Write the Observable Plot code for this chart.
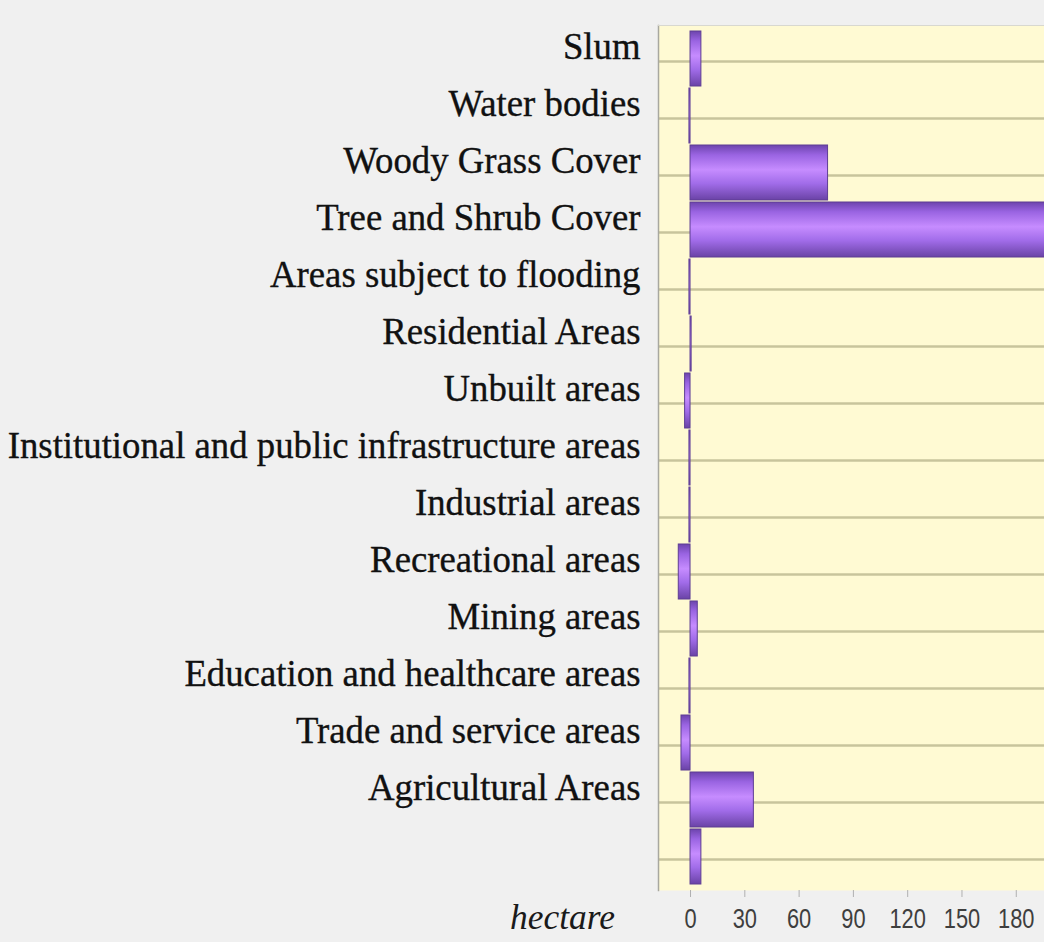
<!DOCTYPE html>
<html>
<head>
<meta charset="utf-8">
<script src="https://cdn.jsdelivr.net/npm/d3@7"></script>
<script src="https://cdn.jsdelivr.net/npm/@observablehq/plot@0.6"></script>
<style>
  html, body { margin: 0; padding: 0; background: #f0f0f0; }
  #chart { width: 1044px; height: 942px; overflow: hidden; }
</style>
</head>
<body>
<div id="chart"></div>
<script>
const categories = [
  "Slum",
  "Water bodies",
  "Woody Grass Cover",
  "Tree and Shrub Cover",
  "Areas subject to flooding",
  "Residential Areas",
  "Unbuilt areas",
  "Institutional and public infrastructure areas",
  "Industrial areas",
  "Recreational areas",
  "Mining areas",
  "Education and healthcare areas",
  "Trade and service areas",
  "Agricultural Areas",
  ""
];
const values = [6, -0.6, 76, 240, -0.6, 0.6, -3, -0.6, -0.6, -6.5, 4, -0.6, -5, 35, 6];
const xTicks = [0, 30, 60, 90, 120, 150, 180];
const axisLabel = "hectare";

const data = categories.map((c, i) => ({i, category: c, value: values[i]}));
const idx = d3.range(categories.length);

const svg = Plot.plot({
  width: 1044,
  height: 942,
  marginLeft: 658,
  marginRight: 0,
  marginTop: 25,
  marginBottom: 52,
  style: {background: "#f0f0f0", overflow: "visible"},
  x: {domain: [-17.7, 195.6]},
  y: {domain: idx, padding: 0.04, align: 0.5},
  marks: [
    Plot.frame({fill: "#fffad3", stroke: null}),
    Plot.ruleY(idx, {y: d => d, stroke: "#c8c49c", strokeWidth: 2.5, dy: 2.5}),
    Plot.frame({anchor: "left", stroke: "#a8a8a0", strokeWidth: 1.5}),
    Plot.frame({anchor: "top", stroke: "#d8d8d0", strokeWidth: 1}),
    Plot.barX(data, {
      y: "i", x: "value",
      fill: "url(#barGrad)", stroke: "#5e3d94", strokeWidth: 1,
      inset: 0, clip: true
    }),
    Plot.axisX({
      ticks: xTicks, tickSize: 7, tickPadding: 11, label: null,
      fontSize: 28, fontFamily: "Arial, 'Liberation Sans', sans-serif",
      stroke: "#b0b0b0", color: "#3e3e3e", tickFormat: d => d
    }),
    Plot.axisY({
      ticks: idx, tickSize: 0, tickPadding: 18, label: null,
      tickFormat: i => categories[i], fontSize: 38,
      fontFamily: "'Liberation Serif', 'Times New Roman', serif",
      color: "#111111", dy: -12
    }),
    Plot.text([axisLabel], {
      frameAnchor: "bottom-left", text: d => d, dx: -96, dy: 38,
      fontSize: 36, fontStyle: "italic",
      fontFamily: "'Liberation Serif', 'Times New Roman', serif",
      fill: "#1a1a1a", textAnchor: "middle"
    })
  ]
});

// cylindrical purple gradient
const ns = "http://www.w3.org/2000/svg";
const defs = document.createElementNS(ns, "defs");
const grad = document.createElementNS(ns, "linearGradient");
grad.setAttribute("id", "barGrad");
grad.setAttribute("x1", "0"); grad.setAttribute("y1", "0");
grad.setAttribute("x2", "0"); grad.setAttribute("y2", "1");
[[0, "#6d44ad"], [0.18, "#9a64e2"], [0.45, "#c68cff"], [0.7, "#a16ce9"], [1, "#6a43a6"]].forEach(([o, c]) => {
  const s = document.createElementNS(ns, "stop");
  s.setAttribute("offset", o); s.setAttribute("stop-color", c);
  grad.appendChild(s);
});
defs.appendChild(grad);
svg.insertBefore(defs, svg.firstChild);

document.getElementById("chart").appendChild(svg);

// horizontally condense text to match the reference's narrow, tall lettering
function condense(texts, k) {
  texts.forEach(t => {
    const tr = t.getAttribute("transform") || "";
    const x = +t.getAttribute("x") || 0;
    t.setAttribute("transform", tr + ` translate(${x},0) scale(${k},1) translate(${-x},0)`);
  });
}
const yTexts = Array.from(svg.querySelectorAll("g[aria-label='y-axis tick label'] text"));
let maxW = 0;
yTexts.forEach(t => { maxW = Math.max(maxW, t.getComputedTextLength()); });
condense(yTexts, maxW > 0 ? 633 / maxW : 1);
yTexts.forEach(t => { t.setAttribute("stroke", "#111"); t.setAttribute("stroke-width", "0.35"); });

const xTexts = Array.from(svg.querySelectorAll("g[aria-label='x-axis tick label'] text"));
condense(xTexts, 0.78);

const labelTexts = Array.from(svg.querySelectorAll("g[aria-label='text'] text"));
labelTexts.forEach(t => {
  const w = t.getComputedTextLength();
  if (w > 0) condense([t], 105 / w);
});
</script>
</body>
</html>
